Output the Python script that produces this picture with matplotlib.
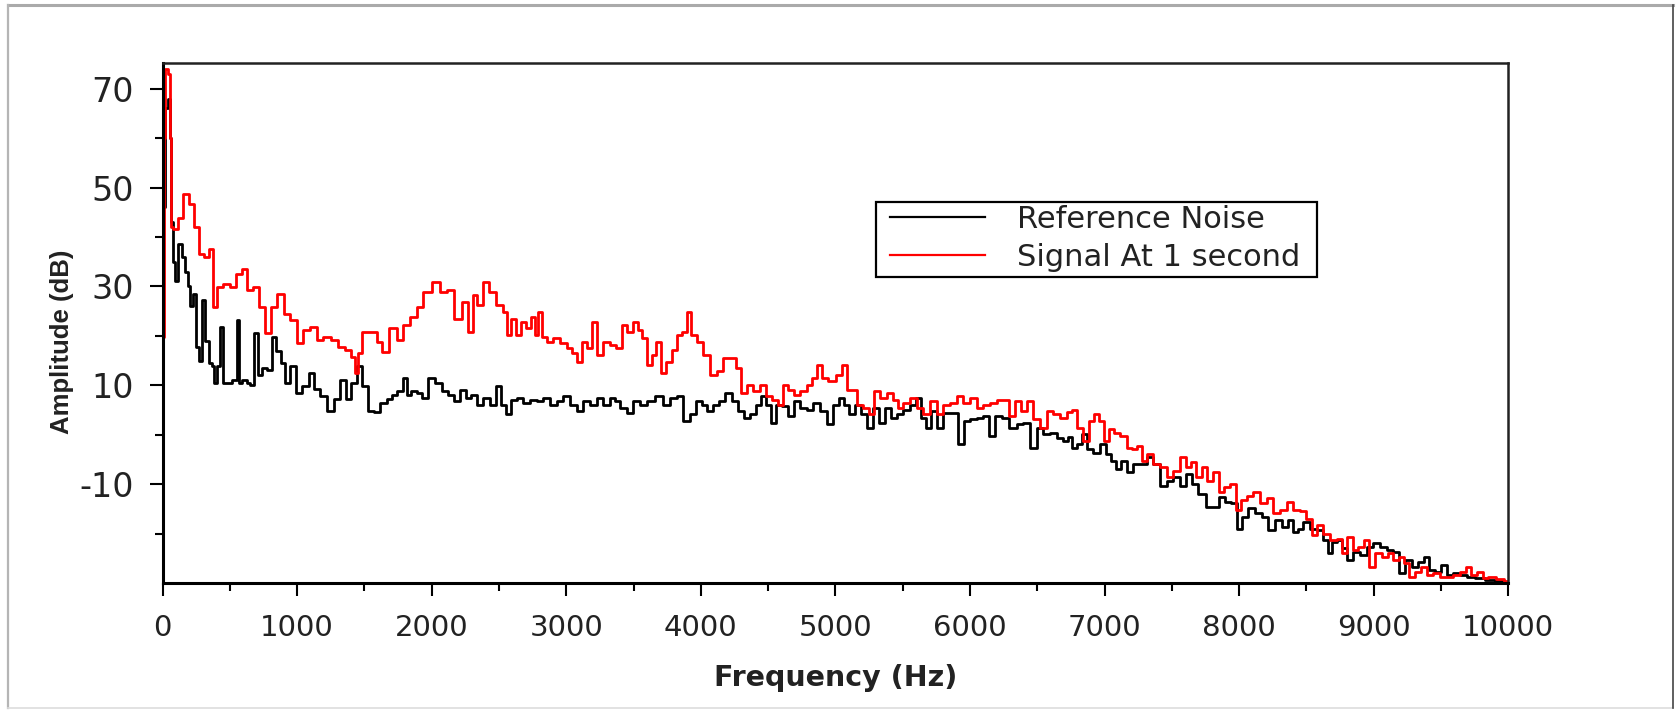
import matplotlib
matplotlib.use("Agg")
import matplotlib.pyplot as plt
from matplotlib.ticker import FixedLocator, MultipleLocator
from matplotlib.patches import Rectangle
from matplotlib.lines import Line2D

plt.rcParams['font.family'] = ['DejaVu Sans']
plt.rcParams['axes.unicode_minus'] = False

# ---------------- data ----------------
series_labels = ["Reference Noise", "Signal At 1 second"]

freq_noise = [0, 10, 30, 45, 60, 70, 80, 105, 130, 155, 180, 195, 215, 240, 265, 280,
              305, 330, 355, 380, 390, 415, 440, 465, 500, 540, 565, 575, 613, 638, 662,
              700, 725, 760, 800, 824, 860, 898, 923, 972, 1010, 1060, 1110, 1145, 1195,
              1257, 1294, 1344, 1381, 1418, 1467, 1505, 1555, 1592, 1640, 1690,
              1715, 1765, 1802, 1827, 1864, 1913, 1950, 2000, 2049, 2099, 2148, 2186,
              2235, 2272, 2310, 2359, 2409, 2458, 2495, 2533, 2570, 2607, 2656, 2706,
              2755, 2805, 2854, 2904, 2953, 3003, 3052, 3102, 3152, 3201, 3251, 3300,
              3350, 3375, 3424, 3474, 3523, 3573, 3622, 3697, 3746, 3796, 3845, 3895,
              3944, 3981, 4031, 4068, 4118, 4155, 4204, 4254, 4303, 4341, 4390, 4427,
              4464, 4502, 4539, 4576, 4625, 4675, 4712, 4762, 4811, 4861, 4910, 4960,
              5009, 5046, 5083, 5121, 5170, 5207, 5257, 5306, 5344, 5393, 5430, 5480,
              5529, 5579, 5616, 5653, 5690, 5728, 5777, 5827, 5888, 5938, 5975, 6025,
              6074, 6124, 6161, 6211, 6260, 6322, 6372, 6421, 6471, 6520, 6570, 6619,
              6669, 6718, 6743, 6780, 6817, 6842, 6892, 6941, 6991, 7028, 7065, 7102,
              7139, 7189, 7238, 7288, 7338, 7387, 7437, 7486, 7536, 7585, 7622, 7672,
              7721, 7783, 7833, 7870, 7920, 7957, 8006, 8043, 8093, 8143, 8192, 8242,
              8291, 8341, 8378, 8427, 8452, 8502, 8551, 8601, 8650, 8675, 8700, 8749,
              8786, 8824, 8873, 8923, 8972, 9022, 9071, 9121, 9170, 9207, 9257, 9307,
              9356, 9393, 9431, 9480, 9517, 9567, 9616, 9666, 9715, 9790, 9864, 9938,
              10000]
amp_noise = [18, 46, 66, 68, 60, 43, 35, 31, 38.6, 36, 33, 30, 26, 28.5, 17.8, 15,
             27.2, 19, 14.5, 14, 10.5, 14, 21.8, 10.5, 10.5, 11, 23.2, 10.5, 11, 10.5, 10,
             20.5, 12, 13.5, 13, 19.8, 17, 14.5, 10.5, 13.8, 8.5, 9.8, 12.5, 9.2, 7.8,
             4.8, 7.2, 11.1, 7.2, 10.5, 13.8, 9.8, 4.8, 4.5, 6.5, 7.2,
             8.1, 8.8, 11.5, 8.1, 8.8, 8.5, 7.4, 11.5, 10.5, 8.8, 8.1, 6.8,
             9.1, 7.4, 8.1, 6.1, 7.4, 6.1, 9.8, 6.1, 4.1, 7.1, 7.4, 6.4,
             7.1, 6.8, 7.4, 6.1, 6.8, 7.8, 6.1, 4.8, 6.8, 6.1, 7.4, 6.1,
             7.4, 6.8, 5.4, 4.4, 6.8, 6.1, 6.8, 7.8, 6.1, 7.4, 7.8, 2.8,
             4.1, 6.8, 6.1, 4.8, 6.1, 6.8, 8.5, 6.8, 4.8, 3.4, 4.1, 6.1,
             7.8, 6.1, 2.4, 6.1, 5.8, 3.8, 6.8, 5.4, 5.1, 6.4, 4.8, 2.1,
             6.1, 7.4, 6.1, 4.1, 6.1, 4.1, 1.4, 5.4, 2.4, 5.4, 3.4, 4.1,
             5.1, 6.1, 7.5, 3.4, 1.4, 4.8, 1.4, 4.4, 4.4, -1.9, 2.8, 3.1,
             3.4, 3.8, -0.2, 3.8, 3.4, 1.4, 2.1, 2.4, -2.6, 1.4, 0.1, 0.4,
             -0.6, -1.2, -0.5, -2.6, -1.9, 0.1, -2.9, -3.6, -1.9, -3.9, -5.3, -6.9,
             -5.3, -7.6, -5.9, -5.9, -4.6, -5.9, -10.3, -9.3, -8.6, -10.3, -7.9, -9.9,
             -11.9, -14.6, -14.6, -12.6, -13.6, -13.9, -19, -16.6, -14.9, -15.9, -16.6, -19.3,
             -17.3, -18.6, -17.3, -19.6, -19, -17.7, -19, -19.3, -21.3, -24, -21.7, -21.3,
             -23, -25.3, -23.7, -24.3, -22.7, -22, -22.7, -23.3, -23.7, -28, -25.3, -26.7,
             -25.7, -24.7, -27.4, -27.7, -26.4, -28.4, -28, -28.4, -28.8, -29, -29.4, -29.6,
             -29.8]

freq_signal = [0, 15, 25, 50, 62, 68, 93, 130, 180, 217, 254, 291, 328, 365, 390, 427,
               477, 526, 563, 613, 650, 700, 737, 786, 824, 885, 923, 972, 1022, 1071,
               1121, 1170, 1220, 1282, 1331, 1381, 1418, 1443, 1467, 1492, 1567, 1616,
               1653, 1715, 1765, 1814, 1864, 1913, 1963, 2037, 2087, 2136, 2198, 2248,
               2285, 2322, 2359, 2404, 2446, 2508, 2557, 2570, 2607, 2644, 2681, 2718,
               2755, 2780, 2805, 2842, 2879, 2929, 2978, 3028, 3065, 3102, 3127, 3176,
               3213, 3251, 3300, 3350, 3387, 3436, 3474, 3511, 3548, 3585, 3622, 3647,
               3684, 3721, 3758, 3808, 3845, 3882, 3912, 3944, 3994, 4043, 4093, 4142,
               4192, 4241, 4279, 4316, 4365, 4415, 4464, 4502, 4551, 4601, 4625, 4675,
               4712, 4762, 4811, 4848, 4885, 4923, 4972, 5034, 5071, 5096, 5145, 5183,
               5232, 5269, 5306, 5356, 5406, 5443, 5480, 5529, 5579, 5628, 5678, 5728,
               5777, 5827, 5876, 5926, 5975, 6025, 6074, 6124, 6173, 6223, 6272, 6310,
               6359, 6396, 6446, 6495, 6545, 6595, 6644, 6694, 6743, 6780, 6817, 6867,
               6904, 6941, 6978, 7015, 7053, 7090, 7139, 7189, 7226, 7263, 7300, 7338,
               7387, 7437, 7486, 7536, 7585, 7622, 7660, 7697, 7746, 7783, 7833, 7870,
               7907, 7957, 7994, 8031, 8081, 8130, 8180, 8229, 8279, 8328, 8378, 8427,
               8477, 8514, 8563, 8601, 8650, 8700, 8749, 8786, 8824, 8861, 8910, 8947,
               8985, 9034, 9084, 9121, 9170, 9207, 9245, 9282, 9331, 9369, 9418, 9468,
               9517, 9567, 9616, 9666, 9703, 9740, 9790, 9827, 9876, 9938, 10000]
amp_signal = [19.8, 60, 74, 73, 60, 42, 41.6, 43.9, 48.6, 46.6, 42, 36.6, 35.9, 37.6, 25.9, 29.9,
              30.5, 29.9, 32.5, 33.5, 29.2, 29.9, 25.9, 20.5, 25.9, 28.5, 24.5, 23.2, 18.5, 21.2,
              21.8, 19.2, 19.8, 19.2, 17.8, 17.2, 15.8, 12.5, 16.5, 20.8, 20.8, 18.8,
              16.8, 21.5, 19.2, 22.2, 23.9, 25.9, 28.9, 30.9, 28.9, 29.2, 23.5, 26.9,
              20.8, 28.2, 26.2, 30.9, 28.9, 26.2, 24.9, 20.2, 23.5, 20.2, 22.8, 21.5,
              23.9, 20.2, 24.9, 19.8, 18.8, 19.5, 18.5, 17.5, 16.5, 14.8, 18.8, 17.5,
              22.8, 16.2, 18.8, 18.2, 17.5, 22.2, 20.8, 22.8, 21.2, 19.5, 14.2, 16.2,
              18.8, 12.5, 14.8, 17.2, 20.2, 20.8, 24.9, 20.2, 18.8, 16.2, 12.1, 12.8,
              15.5, 15.5, 13.5, 8.5, 10.1, 8.8, 10.1, 7.8, 7.1, 6.1, 10.1, 9.1,
              8.1, 8.8, 10.1, 11.5, 14.2, 11.5, 10.8, 12.1, 14.1, 9.0, 9.1, 6.1,
              5.4, 4.1, 8.8, 7.5, 8.5, 7.1, 5.4, 6.4, 7.5, 5.4, 4.1, 6.8,
              4.1, 6.1, 6.4, 7.8, 6.4, 7.5, 5.4, 6.1, 6.4, 7.1, 7.1, 3.8,
              6.8, 4.8, 6.8, 3.1, 1.4, 4.8, 4.1, 3.4, 4.5, 5.1, 1.4, -1.2,
              2.8, 4.1, 2.8, -1.2, 1.1, 0.4, -0.2, -2.6, -2.9, -2.3, -5.3, -3.9,
              -5.9, -6.6, -8.6, -7.3, -4.6, -6.6, -5.6, -8.6, -6.6, -9.3, -7.6, -11.6,
              -10.6, -9.9, -15.3, -13.3, -12.3, -11.6, -13.9, -12.9, -15.9, -15.3, -13.6, -15.3,
              -15.5, -17, -20.3, -18.3, -20, -21.3, -21, -24, -20.7, -23.3, -22.7, -21.3,
              -26.7, -24, -24.7, -24, -25.3, -24.7, -26, -28.7, -27.7, -26.7, -28.4, -28,
              -28.7, -28.7, -28.4, -27.7, -26.7, -28.4, -27.7, -29, -28.8, -29.2, -29.5]

x_major_ticks = [0, 1000, 2000, 3000, 4000, 5000, 6000, 7000, 8000, 9000, 10000]
y_major_ticks = [-10, 10, 30, 50, 70]
y_minor_ticks = [-20, 0, 20, 40, 60]
x_label = "Frequency (Hz)"
y_label = "Amplitude (dB)"

# ---------------- figure ----------------
W, H = 1678, 715
fig = plt.figure(figsize=(W / 100, H / 100), dpi=100)
fig.patch.set_facecolor("white")


def px_box(l, t, r, b):
    return [l / W, 1 - b / H, (r - l) / W, (b - t) / H]


ax = fig.add_axes(px_box(162.5, 63, 1508.3, 583))
l1, = ax.plot(freq_noise, amp_noise, color="black", lw=2.0, drawstyle="steps-mid",
              label=series_labels[0])
l2, = ax.plot(freq_signal, amp_signal, color="#ff0000", lw=2.0, drawstyle="steps-mid",
              label=series_labels[1])

ax.set_xlim(0, 10000)
ax.set_ylim(-30, 75.2)
ax.xaxis.set_major_locator(FixedLocator(x_major_ticks))
ax.xaxis.set_minor_locator(MultipleLocator(500))
ax.yaxis.set_major_locator(FixedLocator(y_major_ticks))
ax.yaxis.set_minor_locator(FixedLocator(y_minor_ticks))

ax.tick_params(which="major", direction="out", length=9.5, width=1.5, pad=12.5,
               labelsize=21, color="black", labelcolor="#222222")
ax.tick_params(axis="y", which="major", labelsize=24, pad=11)
ax.tick_params(which="minor", direction="out", length=5.5, width=1.5, color="black")

for side in ["left", "bottom"]:
    ax.spines[side].set_linewidth(2.2)
    ax.spines[side].set_color("black")
for side in ["top", "right"]:
    ax.spines[side].set_linewidth(1.8)
    ax.spines[side].set_color("#222222")

ax.set_xlabel(x_label, fontsize=20.5, fontweight="bold", color="#222222", labelpad=16)
ax.set_ylabel(y_label, fontsize=18.5, fontweight="bold", color="#222222",
              family=["Liberation Sans", "DejaVu Sans"])
ax.yaxis.set_label_coords(-0.066, 0.463)

# legend
leg = fig.legend([l1, l2], series_labels, loc="upper left",
                 bbox_to_anchor=(890 / W, 1 - 205 / H), bbox_transform=fig.transFigure,
                 frameon=False, borderpad=0, borderaxespad=0, fontsize=22,
                 handlelength=3.1, handletextpad=1.05, labelspacing=0.3,
                 labelcolor="#222222")
for h in leg.legend_handles:
    h.set_linewidth(1.6)
fig.add_artist(Rectangle((876 / W, 1 - 277 / H), (1316.7 - 876) / W, (277 - 201.7) / H,
                         transform=fig.transFigure, fill=False, lw=1.6, ec="black", zorder=5))

# outer figure frame
fx0, fx1 = 8.4 / W, 1673 / W
fy0, fy1 = 1 - 708 / H, 1 - 5 / H
for xs, ys, c, w in [([fx0, fx1], [fy1, fy1], "#aaaaaa", 2.2),
                     ([fx0, fx0], [fy0, fy1], "#b5b5b5", 1.6),
                     ([fx0, fx1], [fy0, fy0], "#dddddd", 1.2),
                     ([fx1, fx1], [fy0, fy1], "#444444", 1.2)]:
    fig.add_artist(Line2D(xs, ys, transform=fig.transFigure, color=c, lw=w))

fig.savefig("out.png", dpi=100, facecolor="white")
